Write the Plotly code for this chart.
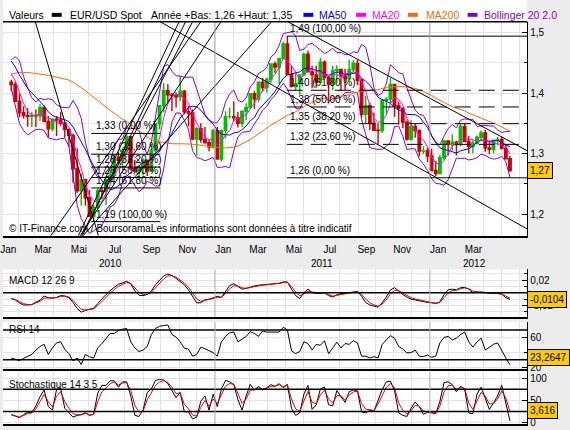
import pandas as pd
import plotly.graph_objects as go

# ---------------- data (weekly bars) ----------------
first_week = "2010-01-20"
first_open = 1.4180
closes = [1.4140, 1.3865, 1.3675, 1.3630, 1.3615, 1.3630, 1.3625, 1.3760, 1.3530, 1.3410,
          1.3570, 1.3555, 1.3500, 1.3395, 1.3300, 1.2750, 1.2385, 1.2570, 1.2270, 1.1965,
          1.2110, 1.2385, 1.2375, 1.2565, 1.2640, 1.2940, 1.2890, 1.3050, 1.3280, 1.2750,
          1.2710, 1.2760, 1.2890, 1.2710, 1.3050, 1.3490, 1.3790, 1.4040, 1.3970, 1.3960,
          1.3940, 1.4030, 1.3690, 1.3670, 1.3240, 1.3410, 1.3230, 1.3180, 1.3110, 1.3380,
          1.2910, 1.3380, 1.3610, 1.3610, 1.3590, 1.3500, 1.3700, 1.3760, 1.3990, 1.3900,
          1.4180, 1.4090, 1.4230, 1.4480, 1.4430, 1.4570, 1.4810, 1.4310, 1.4110, 1.4155,
          1.4300, 1.4640, 1.4350, 1.4300, 1.4180, 1.4510, 1.4260, 1.4150, 1.4370, 1.4390,
          1.4280, 1.4240, 1.4390, 1.4490, 1.4210, 1.3650, 1.3790, 1.3500, 1.3385, 1.3380,
          1.3880, 1.3900, 1.4140, 1.3790, 1.3750, 1.3520, 1.3240, 1.3450, 1.3380, 1.3040,
          1.3045, 1.2960,
          1.2720, 1.2670, 1.2930, 1.3210, 1.3150, 1.3190, 1.3150, 1.3450, 1.3200, 1.3120,
          1.3170, 1.3270, 1.3340, 1.3095, 1.3070, 1.3220, 1.3235, 1.3085, 1.2915, 1.2720]
highs = [1.4220, 1.4190, 1.3990, 1.3780, 1.3750, 1.3690, 1.3730, 1.3820, 1.3800, 1.3620,
         1.3580, 1.3620, 1.3690, 1.3520, 1.3420, 1.3330, 1.3090, 1.2670, 1.2580, 1.2400,
         1.2160, 1.2430, 1.2450, 1.2590, 1.2720, 1.2990, 1.3030, 1.3080, 1.3330, 1.3290,
         1.2900, 1.2780, 1.2920, 1.2900, 1.3160, 1.3500, 1.3800, 1.4160, 1.4150, 1.4000,
         1.4010, 1.4280, 1.4050, 1.3790, 1.3730, 1.3440, 1.3500, 1.3440, 1.3230, 1.3410,
         1.3440, 1.3400, 1.3700, 1.3760, 1.3860, 1.3690, 1.3700, 1.3830, 1.4000, 1.4040,
         1.4190, 1.4250, 1.4250, 1.4490, 1.4520, 1.4580, 1.4850, 1.4940, 1.4450, 1.4350,
         1.4310, 1.4660, 1.4700, 1.4450, 1.4450, 1.4580, 1.4540, 1.4280, 1.4450, 1.4460,
         1.4400, 1.4400, 1.4550, 1.4540, 1.4550, 1.4240, 1.3950, 1.3840, 1.3680, 1.3500,
         1.3900, 1.3930, 1.4250, 1.4140, 1.3860, 1.3750, 1.3550, 1.3550, 1.3490, 1.3400,
         1.3120, 1.3100,
         1.3080, 1.2880, 1.2980, 1.3230, 1.3220, 1.3320, 1.3210, 1.3490, 1.3490, 1.3290,
         1.3220, 1.3300, 1.3380, 1.3390, 1.3210, 1.3210, 1.3280, 1.3280, 1.3140, 1.2960]
lows = [1.4030, 1.3855, 1.3600, 1.3580, 1.3445, 1.3440, 1.3440, 1.3540, 1.3530, 1.3270,
        1.3370, 1.3290, 1.3460, 1.3260, 1.3110, 1.2520, 1.2350, 1.2140, 1.2140, 1.1960,
        1.1876, 1.2080, 1.2250, 1.2150, 1.2520, 1.2610, 1.2820, 1.2770, 1.3000, 1.2720,
        1.2680, 1.2590, 1.2640, 1.2630, 1.2690, 1.3020, 1.3400, 1.3680, 1.3830, 1.3700,
        1.3760, 1.3870, 1.3650, 1.3450, 1.3220, 1.2970, 1.3180, 1.3180, 1.3040, 1.3080,
        1.2900, 1.2870, 1.3250, 1.3580, 1.3530, 1.3430, 1.3440, 1.3550, 1.3740, 1.3740,
        1.3850, 1.4020, 1.4010, 1.4160, 1.4330, 1.4150, 1.4560, 1.4300, 1.4090, 1.4050,
        1.3970, 1.4280, 1.4340, 1.4080, 1.4090, 1.4170, 1.4250, 1.3840, 1.4050, 1.4160,
        1.4030, 1.4050, 1.4200, 1.4340, 1.4130, 1.3600, 1.3500, 1.3390, 1.3380, 1.3150,
        1.3340, 1.3660, 1.3830, 1.3610, 1.3480, 1.3420, 1.3210, 1.3210, 1.3260, 1.2950,
        1.2990, 1.2860,
        1.2710, 1.2624, 1.2660, 1.2890, 1.2970, 1.3050, 1.2970, 1.3120, 1.3190, 1.3000,
        1.3000, 1.3150, 1.3200, 1.3030, 1.2990, 1.3000, 1.3150, 1.3080, 1.2910, 1.2700]
# weekly closes before the visible window (warm-up of the moving averages)
hist_closes = [1.2660, 1.2930, 1.3580, 1.3280, 1.3480, 1.3210, 1.3030, 1.3250,
               1.3280, 1.3640, 1.3520, 1.4000, 1.4150, 1.3960, 1.3940, 1.3930, 1.4130,
               1.3980, 1.3950, 1.4120, 1.4200, 1.4250, 1.4180, 1.4190, 1.4330, 1.4320,
               1.4320, 1.4570, 1.4710, 1.4680, 1.4570, 1.4740, 1.4920, 1.5020, 1.4720,
               1.4860, 1.4900, 1.4860, 1.4980, 1.4860, 1.4620, 1.4340, 1.4370, 1.4330, 1.4410, 1.4380]

macd = [-0.0091, -0.0113, -0.0159, -0.0193, -0.0193, -0.0187, -0.0147, -0.0119, -0.0051, -0.0079,
        -0.0085, -0.0074, -0.0045, -0.0051, -0.0079, -0.0153, -0.0249, -0.0306, -0.0278, -0.0266,
        -0.0244, -0.0170, -0.0091, -0.0028, 0.0034, 0.0085, 0.0136, 0.0153, 0.0181, 0.0142,
        0.0028, -0.0040, -0.0045, -0.0028, 0.0028, 0.0125, 0.0198, 0.0266, 0.0295, 0.0272,
        0.0227, 0.0170, 0.0125, 0.0045, -0.0068, -0.0159, -0.0159, -0.0113, -0.0102, -0.0079,
        -0.0057, -0.0074, 0.0028, 0.0113, 0.0142, 0.0102, 0.0057, 0.0068, 0.0091, 0.0108,
        0.0119, 0.0125, 0.0130, 0.0136, 0.0142, 0.0147, 0.0170, 0.0170, 0.0057, -0.0045,
        -0.0091, 0.0000, 0.0057, 0.0000, -0.0011, -0.0011, 0.0000, -0.0045, -0.0068, -0.0034,
        -0.0011, -0.0011, 0.0000, 0.0023, 0.0023, -0.0057, -0.0153, -0.0193, -0.0215, -0.0227,
        -0.0159, -0.0068, 0.0045, 0.0079, 0.0028, -0.0028, -0.0068, -0.0102, -0.0113, -0.0125,
        -0.0147, -0.0153, -0.0159, -0.0170, -0.0147, -0.0028, 0.0045, 0.0057, 0.0045, 0.0079,
        0.0085, 0.0057, 0.0000, 0.0006, 0.0011, 0.0000, -0.0011, -0.0011, -0.0011, -0.0023,
        -0.0079, -0.0104]
rsi = [32.4, 30.5, 29.0, 31.9, 34.3, 37.2, 43.0, 47.8, 50.7, 37.2,
       45.9, 52.6, 54.1, 44.0, 38.2, 28.5, 32.4, 23.7, 37.2, 33.9,
       32.4, 45.9, 51.7, 58.9, 65.2, 65.2, 69.0, 71.0, 71.9, 54.1,
       45.9, 41.1, 43.0, 47.8, 63.7, 71.9, 74.8, 75.8, 76.7, 63.7,
       60.4, 54.1, 45.4, 44.4, 34.8, 37.2, 46.9, 44.9, 42.0, 39.6,
       34.8, 54.1, 61.3, 66.1, 67.1, 54.1, 57.5, 61.3, 67.6, 65.2,
       61.3, 68.6, 67.1, 67.1, 67.1, 67.1, 73.4, 70.0, 42.0, 38.2,
       41.1, 54.1, 51.7, 43.0, 50.7, 49.3, 55.5, 38.2, 45.9, 53.6,
       45.9, 51.7, 50.7, 55.5, 52.6, 34.8, 34.8, 32.4, 34.3, 32.4,
       50.7, 56.5, 62.3, 58.9, 47.8, 44.4, 39.2, 39.6, 43.0, 34.8,
       34.3, 36.3, 33.4, 34.8, 52.6, 59.9, 61.3, 56.5, 58.9, 63.7,
       67.1, 54.1, 46.9, 54.1, 58.9, 43.0, 46.9, 50.7, 52.6, 42.0,
       32.4, 23.2647]
stoch_k = [17.6, 13.6, 11.2, 17.6, 23.2, 22.4, 37.6, 58.4, 73.6, 36.0,
           28.0, 74.4, 77.6, 32.0, 21.6, 12.0, 16.0, 17.6, 22.4, 16.0,
           18.4, 66.4, 84.0, 84.0, 94.4, 94.4, 80.0, 92.0, 92.0, 60.0,
           16.0, 13.6, 28.0, 68.0, 76.0, 95.2, 97.6, 96.0, 88.0, 72.0,
           56.0, 68.0, 24.0, 24.0, 8.0, 12.0, 48.0, 60.0, 28.0, 64.0,
           36.0, 76.0, 95.2, 92.0, 85.6, 52.0, 28.0, 60.0, 86.4, 73.6,
           81.6, 73.6, 78.4, 85.6, 81.6, 88.0, 78.4, 86.4, 32.0, 16.0,
           21.6, 64.0, 84.0, 29.6, 40.0, 76.0, 80.0, 40.0, 37.6, 72.0,
           60.0, 45.6, 69.6, 73.6, 72.0, 24.0, 21.6, 28.0, 25.6, 52.0,
           74.4, 92.0, 93.6, 72.0, 21.6, 16.0, 13.6, 32.0, 46.4, 36.0,
           18.4, 23.2, 21.6, 20.0, 48.0, 90.4, 92.0, 85.6, 69.6, 81.6,
           76.0, 21.6, 20.0, 64.0, 80.0, 54.4, 29.6, 44.0, 60.0, 84.0,
           44.0, 3.616]

# Fibonacci retracements (swing high / swing low) and their date spans
fib_ratios = [0.0, 0.236, 0.382, 0.5, 0.618, 1.0]
fib1_high, fib1_low = 1.3333, 1.1876
fib1_span = ["2010-06-05", "2010-09-30"]
fib2_low, fib2_high = 1.2600, 1.4940
fib2_span = ["2011-05-03", "2012-06-14"]

# hand-drawn trend lines: (date0, price0, date1, price1)
trend_lines = [
    ("2010-03-02", 1.5177, "2010-06-17", 1.1642),
    ("2010-09-30", 1.5177, "2012-06-14", 1.1756),
    ("2011-05-05", 1.5177, "2012-06-14", 1.3049),
    ("2010-05-14", 1.1642, "2010-11-01", 1.5177),
    ("2010-05-21", 1.1642, "2010-11-12", 1.5177),
    ("2010-05-19", 1.1642, "2010-11-24", 1.5177),
    ("2010-05-17", 1.1642, "2011-01-11", 1.5177),
    ("2010-05-22", 1.1642, "2011-04-07", 1.5177),
    ("2010-03-28", 1.1642, "2010-12-08", 1.5177),
]

month_labels = ["Jan", "Mar", "Mai", "Jul", "Sep", "Nov", "Jan", "Mar", "Mai", "Jul", "Sep", "Nov", "Jan", "Mar"]
month_label_dates = ["2010-01-15", "2010-03-15", "2010-05-15", "2010-07-15", "2010-09-15", "2010-11-15",
                     "2011-01-15", "2011-03-15", "2011-05-15", "2011-07-15", "2011-09-15", "2011-11-15",
                     "2012-01-15", "2012-03-15"]
year_labels = ["2010", "2011", "2012"]
year_label_dates = ["2010-07-07", "2011-07-01", "2012-03-17"]
year_breaks = ["2011-01-01", "2012-01-01"]

# ---------------- derived series ----------------
weeks = pd.date_range(first_week, periods=len(closes), freq="7D")
opens = [first_open] + closes[:-1]

all_c = pd.Series(hist_closes + closes)
all_h = pd.Series(hist_closes + highs)
all_l = pd.Series(hist_closes + lows)
n_hist = len(hist_closes)
ma20 = all_c.rolling(4).mean().iloc[n_hist:].values
ma50 = all_c.rolling(10).mean().iloc[n_hist:].values
ma200 = all_c.rolling(40).mean().iloc[n_hist:].values
pool = pd.concat([all_c, all_h, all_l], axis=1)
sd = [pool.iloc[max(0, k - 3):k + 1].values.std() for k in range(len(all_c))]
sd = pd.Series(sd).iloc[n_hist:].values
bb_up = ma20 + 2 * sd
bb_dn = ma20 - 2 * sd

macd_sig = pd.Series(macd).ewm(alpha=0.6).mean().values
stoch_d = pd.Series(stoch_k).ewm(alpha=0.6).mean().values


def fr(v, nd):
    return f"{v:.{nd}f}".replace(".", ",")


# ---------------- figure ----------------
W, H = 570, 430
FONT = "Liberation Sans, Arial, sans-serif"
GRID = "#E3E3E3"
XR = ["2010-01-06 02:00", "2012-06-14 07:00"]
XD = [0, 527 / W]


def ydom(top, bottom):
    return [1 - bottom / H, 1 - top / H]


fig = go.Figure()

fig.add_trace(go.Candlestick(
    x=weeks, open=opens, high=highs, low=lows, close=closes,
    increasing=dict(line=dict(color="#00C000", width=1.4), fillcolor="#00C000"),
    decreasing=dict(line=dict(color="#D00000", width=1.4), fillcolor="#D00000"),
    whiskerwidth=0, showlegend=False, hoverinfo="skip", xaxis="x", yaxis="y"))

for ser, col in [(bb_up, "#8800CC"), (bb_dn, "#8800CC"), (ma200, "#FF6600"),
                 (ma50, "#0000FF"), (ma20, "#FF00FF")]:
    fig.add_trace(go.Scatter(x=weeks, y=ser, mode="lines", line=dict(color=col, width=1),
                             showlegend=False, hoverinfo="skip", xaxis="x", yaxis="y"))

# Fibonacci set 1
for r in fib_ratios:
    lvl = fib1_high - r * (fib1_high - fib1_low)
    fig.add_trace(go.Scatter(x=fib1_span, y=[lvl, lvl], mode="lines", line=dict(color="black", width=1),
                             showlegend=False, hoverinfo="skip", xaxis="x", yaxis="y"))
    fig.add_annotation(x="2010-06-09", y=lvl, xref="x", yref="y", xanchor="left", yanchor="bottom",
                       text=f"{fr(lvl, 2)} ({fr(r * 100, 2)} %)", showarrow=False,
                       font=dict(size=10, color="black", family=FONT))
# Fibonacci set 2
for r in fib_ratios:
    lvl = fib2_low + r * (fib2_high - fib2_low)
    dash = "solid" if r in (0.0, 1.0) else "16px,8px"
    fig.add_trace(go.Scatter(x=fib2_span, y=[lvl, lvl], mode="lines",
                             line=dict(color="black", width=1, dash=dash),
                             showlegend=False, hoverinfo="skip", xaxis="x", yaxis="y"))
    fig.add_annotation(x="2011-05-05", y=lvl, xref="x", yref="y", xanchor="left", yanchor="bottom",
                       text=f"{fr(lvl, 2)} ({fr(r * 100, 2)} %)", showarrow=False,
                       font=dict(size=10, color="black", family=FONT))

for d0, p0, d1, p1 in trend_lines:
    fig.add_trace(go.Scatter(x=[d0, d1], y=[p0, p1], mode="lines", line=dict(color="black", width=1),
                             showlegend=False, hoverinfo="skip", xaxis="x", yaxis="y"))

# MACD
fig.add_trace(go.Scatter(x=weeks, y=macd, mode="lines", line=dict(color="black", width=1),
                         showlegend=False, hoverinfo="skip", xaxis="x2", yaxis="y2"))
fig.add_trace(go.Scatter(x=weeks, y=macd_sig, mode="lines", line=dict(color="#E00000", width=1),
                         showlegend=False, hoverinfo="skip", xaxis="x2", yaxis="y2"))
# RSI
fig.add_trace(go.Scatter(x=weeks, y=rsi, mode="lines", line=dict(color="black", width=1),
                         showlegend=False, hoverinfo="skip", xaxis="x3", yaxis="y3"))
# Stochastic
fig.add_trace(go.Scatter(x=weeks, y=stoch_k, mode="lines", line=dict(color="black", width=1),
                         showlegend=False, hoverinfo="skip", xaxis="x4", yaxis="y4"))
fig.add_trace(go.Scatter(x=weeks, y=stoch_d, mode="lines", line=dict(color="#E00000", width=1),
                         showlegend=False, hoverinfo="skip", xaxis="x4", yaxis="y4"))

# reference lines in panels
for ax, val in [("2", 0.0), ("3", 70), ("3", 30), ("4", 75), ("4", 25)]:
    fig.add_shape(type="line", xref=f"x{ax} domain", x0=0, x1=1, yref=f"y{ax}", y0=val, y1=val,
                  line=dict(color="black", width=1.5))

# year separators
for yb in year_breaks:
    for ax in ["", "2", "3", "4"]:
        fig.add_shape(type="line", xref=f"x{ax}", x0=yb, x1=yb, yref=f"y{ax} domain", y0=0, y1=1,
                      line=dict(color="#A8A8A8", width=1))

# header band
fig.add_shape(type="rect", xref="paper", yref="paper", x0=0, x1=527 / W, y0=1 - 22 / H, y1=1,
              fillcolor="white", line=dict(width=0), layer="below")
fig.add_shape(type="line", xref="paper", yref="paper", x0=0, x1=527 / W, y0=1 - 22 / H, y1=1 - 22 / H,
              line=dict(color="black", width=1.5))

hy = 1 - 15 / H
header = [(4, "Valeurs", "black"), (65, "EUR/USD Spot", "black"),
          (147, "Année +Bas: 1,26 +Haut: 1,35", "black"),
          (316, "MA50", "#0000FF"), (369, "MA20", "#FF00FF"), (423, "MA200", "#FF6600"),
          (482, "Bollinger 20 2.0", "#8800CC")]
for x, t, c in header:
    fig.add_annotation(x=x / W, y=hy, xref="paper", yref="paper", xanchor="left", yanchor="middle",
                       text=t, showarrow=False, font=dict(size=10.5, color=c, family=FONT))
for x0, c in [(49, "black"), (302, "#0000FF"), (355, "#FF00FF"), (407, "#FF6600"), (467, "#8800CC")]:
    fig.add_shape(type="rect", xref="paper", yref="paper", x0=x0 / W, x1=(x0 + 10) / W,
                  y0=1 - 17 / H, y1=1 - 13 / H, fillcolor=c, line=dict(width=0))

# panel titles & info
for y, t in [(231, "© IT-Finance.com / BoursoramaLes informations sont données à titre indicatif"),
             (283, "MACD 12 26 9"), (333, "RSI 14"), (388, "Stochastique 14 3 5")]:
    fig.add_annotation(x=4 / W, y=1 - y / H, xref="paper", yref="paper", xanchor="left", yanchor="middle",
                       text=t, showarrow=False, font=dict(size=10, color="black", family=FONT))

for d, t in zip(year_label_dates, year_labels):
    fig.add_annotation(x=d, y=1 - 266 / H, xref="x", yref="paper", xanchor="center", yanchor="middle",
                       text=t, showarrow=False, font=dict(size=10, color="black", family=FONT))

# last-value boxes
for yref, val, txt, ys in [("y", closes[-1], fr(closes[-1], 2), 0),
                           ("y2", macd[-1], fr(macd[-1], 4), 0),
                           ("y3", rsi[-1], fr(rsi[-1], 4), 7),
                           ("y4", stoch_k[-1], fr(stoch_k[-1], 3), 10)]:
    fig.add_annotation(x=527 / W, y=val, xref="paper", yref=yref, xanchor="left", yanchor="middle",
                       text=txt, showarrow=False, bgcolor="#FFCC00", bordercolor="black", borderwidth=1,
                       borderpad=2, yshift=ys, font=dict(size=10, color="black", family=FONT))

xcommon = dict(range=XR, domain=XD, showgrid=False, zeroline=False, fixedrange=True,
               minor=dict(dtick="M1", tick0="2010-01-01", showgrid=True, gridcolor=GRID, gridwidth=1),
               rangeslider=dict(visible=False))
ycommon = dict(side="right", showline=True, linecolor="black", linewidth=1, ticks="inside", ticklen=5,
               tickcolor="black", showgrid=True, gridcolor=GRID, zeroline=False,
               tickfont=dict(size=10, color="black", family=FONT), fixedrange=True)

fig.update_layout(
    width=W, height=H, margin=dict(l=0, r=0, t=0, b=0),
    paper_bgcolor="#ECECEC", plot_bgcolor="white", showlegend=False,
    font=dict(family=FONT, size=10, color="black"),
    boxgap=0.15,
    xaxis=dict(**xcommon, anchor="y", showline=True, linecolor="black", linewidth=1.5,
               tickmode="array", tickvals=month_label_dates, ticktext=month_labels, ticks="",
               ticklabelstandoff=3, ticklabeloverflow="allow",
               tickfont=dict(size=10, color="black", family=FONT)),
    xaxis2=dict(**xcommon, anchor="y2", matches="x", showticklabels=False, showline=True,
                linecolor="black", linewidth=2),
    xaxis3=dict(**xcommon, anchor="y3", matches="x", showticklabels=False, showline=True,
                linecolor="black", linewidth=2),
    xaxis4=dict(**xcommon, anchor="y4", matches="x", showticklabels=False, showline=True,
                linecolor="black", linewidth=2),
    yaxis=dict(**ycommon, domain=ydom(22, 238), range=[1.1642, 1.5177], anchor="x",
               tickmode="array", tickvals=[1.2, 1.3, 1.4, 1.5], ticktext=["1,2", "1,3", "1,4", "1,5"],
               minor=dict(dtick=0.05, tick0=1.0, ticks="inside", ticklen=3, tickcolor="black",
                          showgrid=True, gridcolor=GRID)),
    yaxis2=dict(**ycommon, domain=ydom(272, 320), range=[-0.0383, 0.0367], anchor="x2",
                tickmode="array", tickvals=[-0.02, 0.02], ticktext=["-0,02", "0,02"],
                minor=dict(dtick=0.01, tick0=0, ticks="inside", ticklen=3, tickcolor="black",
                           showgrid=True, gridcolor=GRID)),
    yaxis3=dict(**ycommon, domain=ydom(325, 372), range=[18.3, 80.6], anchor="x3",
                tickmode="array", tickvals=[20, 60], ticktext=["20", "60"],
                minor=dict(dtick=20, tick0=0, ticks="inside", ticklen=3, tickcolor="black",
                           showgrid=True, gridcolor=GRID)),
    yaxis4=dict(**ycommon, domain=ydom(374, 428), range=[-3.5, 117.6], anchor="x4",
                tickmode="array", tickvals=[0, 50, 100], ticktext=["0", "50", "100"],
                minor=dict(dtick=25, tick0=0, ticks="inside", ticklen=3, tickcolor="black",
                           showgrid=True, gridcolor=GRID)),
)

fig.write_html("out.html")
